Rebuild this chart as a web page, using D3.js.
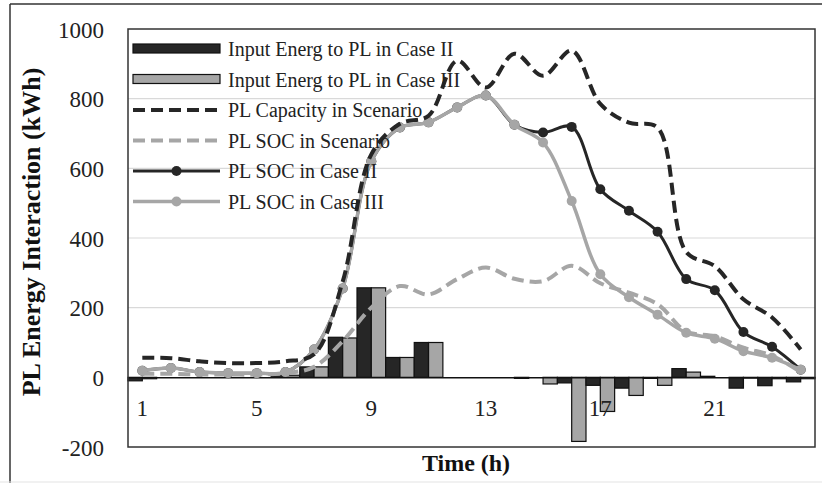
<!DOCTYPE html>
<html>
<head>
<meta charset="utf-8">
<script src="https://cdn.jsdelivr.net/npm/d3@7"></script>
<style>
  body { margin: 0; background: #fff; }
  svg { display: block; font-family: "Liberation Serif", "Times New Roman", serif; }
</style>
</head>
<body>
<div id="chart"></div>
<script>
// hours of the day
const hours = [1, 2, 3, 4, 5, 6, 7, 8, 9, 10, 11, 12, 13, 14, 15, 16, 17, 18, 19, 20, 21, 22, 23, 24];
const hourTicks = [1, 5, 9, 13, 17, 21];
const yTicks = [-200, 0, 200, 400, 600, 800, 1000];

// bars (kWh)
const inputCaseII  = [-10, 0, 0, 0, 0, 6, 30, 115, 257, 57, 100, 0, 0, 0, 0, -16, -23, -31, -3, 25, 3, -31, -24, -13];
const inputCaseIII = [-4, 0, 0, 0, 0, 6, 30, 113, 257, 57, 100, 0, 0, -3, -19, -184, -98, -52, -23, 15, 0, -2, -4, -4];

// lines (kWh)
const capacityScenario = [56, 55, 46, 41, 41, 46, 66, 275, 640, 728, 751, 909, 832, 929, 866, 938, 785, 731, 717, 360, 319, 224, 172, 80];
const socScenario      = [10, 10, 8, 8, 8, 12, 30, 104, 200, 262, 238, 282, 315, 283, 276, 320, 270, 243, 210, 132, 118, 85, 62, 15];
const socCaseII        = [19, 27, 15, 12, 12, 15, 80, 255, 620, 717, 732, 775, 809, 725, 703, 719, 540, 478, 418, 282, 250, 130, 88, 22];
const socCaseIII       = [19, 27, 15, 12, 12, 15, 80, 255, 620, 717, 732, 775, 809, 725, 674, 506, 296, 230, 180, 128, 111, 75, 56, 22];

const width = 822;
const height = 483;
const plotLeft = 128, plotRight = 815, plotTop = 29, plotBottom = 447;

const dark = "#262626";
const light = "#a6a6a6";

const svg = d3.select("#chart")
    .append("svg")
    .attr("width", width)
    .attr("height", height);

// outer frame (only top/left are visible in the picture)
svg.append("line").attr("x1", 10).attr("x2", width).attr("y1", 4).attr("y2", 4)
    .attr("stroke", "#333").attr("stroke-width", 1.5);
svg.append("line").attr("x1", 10).attr("x2", 10).attr("y1", 4).attr("y2", height)
    .attr("stroke", "#333").attr("stroke-width", 1.5);
svg.append("line").attr("x1", 0).attr("x2", width).attr("y1", 482).attr("y2", 482)
    .attr("stroke", "#e3e3e3").attr("stroke-width", 1);

const x = d3.scaleBand()
    .domain(hours)
    .range([plotLeft, plotRight])
    .padding(0);

const xSub = d3.scaleBand()
    .domain(["II", "III"])
    .range([0, x.bandwidth()])
    .padding(0);

const y = d3.scaleLinear()
    .domain([-200, 1000])
    .range([plotBottom, plotTop]);

// gridlines
svg.append("g")
    .selectAll("line")
    .data([200, 400, 600, 800])
    .enter()
    .append("line")
    .attr("x1", plotLeft).attr("x2", plotRight)
    .attr("y1", d => y(d)).attr("y2", d => y(d))
    .attr("stroke", "#d9d9d9")
    .attr("stroke-width", 1.2);

// y axis labels (plain hyphen for negatives, like the original)
const yAxis = svg.append("g")
    .attr("transform", "translate(104,0)")
    .call(d3.axisLeft(y).tickValues(yTicks).tickSize(0).tickPadding(0).tickFormat(d => String(d)));
yAxis.select(".domain").remove();
yAxis.selectAll("text")
    .style("font-family", "Liberation Serif")
    .style("font-size", "23px")
    .attr("fill", "#222")
    .attr("dy", "0.35em");

// bars
const barData = hours.map((h, i) => [
    { hour: h, key: "II", value: inputCaseII[i] },
    { hour: h, key: "III", value: inputCaseIII[i] }
]).flat();

svg.append("g")
    .selectAll("rect")
    .data(barData)
    .enter()
    .append("rect")
    .attr("x", d => x(d.hour) + xSub(d.key))
    .attr("width", xSub.bandwidth())
    .attr("y", d => y(Math.max(0, d.value)))
    .attr("height", d => Math.abs(y(d.value) - y(0)))
    .attr("fill", d => d.key === "II" ? dark : light)
    .attr("stroke", "#111")
    .attr("stroke-width", 1.2);

// x axis along zero
const xAxis = svg.append("g")
    .attr("transform", "translate(0," + y(0) + ")")
    .call(d3.axisBottom(x).tickValues(hourTicks).tickSize(0).tickPadding(22));
xAxis.select(".domain")
    .attr("stroke", "#111")
    .attr("stroke-width", 1.5);
xAxis.selectAll("text")
    .style("font-family", "Liberation Serif")
    .style("font-size", "23px")
    .attr("fill", "#222");

// lines
const cx = h => x(h) + x.bandwidth() / 2;

const series = [
    { name: "PL Capacity in Scenario", values: capacityScenario, color: dark, dash: "12,6", width: 4, marker: false },
    { name: "PL SOC in Scenario", values: socScenario, color: light, dash: "12,6", width: 4, marker: false },
    { name: "PL SOC in Case III", values: socCaseIII, color: light, dash: null, width: 3.5, marker: true },
    { name: "PL SOC in Case II", values: socCaseII, color: dark, dash: null, width: 3, marker: true }
];

const line = d3.line()
    .x((d, i) => cx(hours[i]))
    .y(d => y(d))
    .curve(d3.curveCatmullRom);

// draw order: Case II under Case III where they overlap
const drawOrder = [series[3], series[2], series[0], series[1]];
drawOrder.forEach(s => {
    svg.append("path")
        .datum(s.values)
        .attr("d", line)
        .attr("fill", "none")
        .attr("stroke", s.color)
        .attr("stroke-width", s.width)
        .attr("stroke-dasharray", s.dash);
    if (s.marker) {
        svg.append("g")
            .selectAll("circle")
            .data(s.values)
            .enter()
            .append("circle")
            .attr("cx", (d, i) => cx(hours[i]))
            .attr("cy", d => y(d))
            .attr("r", 5)
            .attr("fill", s.color);
    }
});

// plot border
svg.append("rect")
    .attr("x", plotLeft).attr("y", plotTop)
    .attr("width", plotRight - plotLeft).attr("height", plotBottom - plotTop)
    .attr("fill", "none")
    .attr("stroke", "#333")
    .attr("stroke-width", 1.5);

// legend
const legendItems = [
    { label: "Input Energ to PL in Case II", type: "bar", color: dark },
    { label: "Input Energ to PL in Case III", type: "bar", color: light },
    { label: "PL Capacity in Scenario", type: "line", color: dark, dash: "12,6", width: 4 },
    { label: "PL SOC in Scenario", type: "line", color: light, dash: "12,6", width: 4 },
    { label: "PL SOC in Case II", type: "marker", color: dark, width: 3 },
    { label: "PL SOC in Case III", type: "marker", color: light, width: 3.5 }
];

const legend = svg.append("g")
    .selectAll("g")
    .data(legendItems)
    .enter()
    .append("g")
    .attr("transform", (d, i) => "translate(133," + (49 + i * 30.5) + ")");

legend.filter(d => d.type === "bar")
    .append("rect")
    .attr("x", 0).attr("y", -5)
    .attr("width", 87).attr("height", 9)
    .attr("fill", d => d.color)
    .attr("stroke", "#111")
    .attr("stroke-width", 1.2);

legend.filter(d => d.type !== "bar")
    .append("line")
    .attr("x1", 0).attr("x2", 87)
    .attr("stroke", d => d.color)
    .attr("stroke-width", d => d.width)
    .attr("stroke-dasharray", d => d.dash || null);

legend.filter(d => d.type === "marker")
    .append("circle")
    .attr("cx", 43.5)
    .attr("r", 5)
    .attr("fill", d => d.color);

legend.append("text")
    .attr("x", 95)
    .attr("y", 7)
    .style("font-size", "20px")
    .attr("fill", "#222")
    .text(d => d.label);

// axis titles
svg.append("text")
    .attr("transform", "translate(40,232) rotate(-90)")
    .attr("text-anchor", "middle")
    .style("font-size", "26px")
    .style("font-weight", "bold")
    .attr("fill", "#111")
    .text("PL Energy Interaction (kWh)");

svg.append("text")
    .attr("x", 466)
    .attr("y", 471)
    .attr("text-anchor", "middle")
    .style("font-size", "24px")
    .style("font-weight", "bold")
    .attr("fill", "#111")
    .text("Time (h)");
</script>
</body>
</html>
